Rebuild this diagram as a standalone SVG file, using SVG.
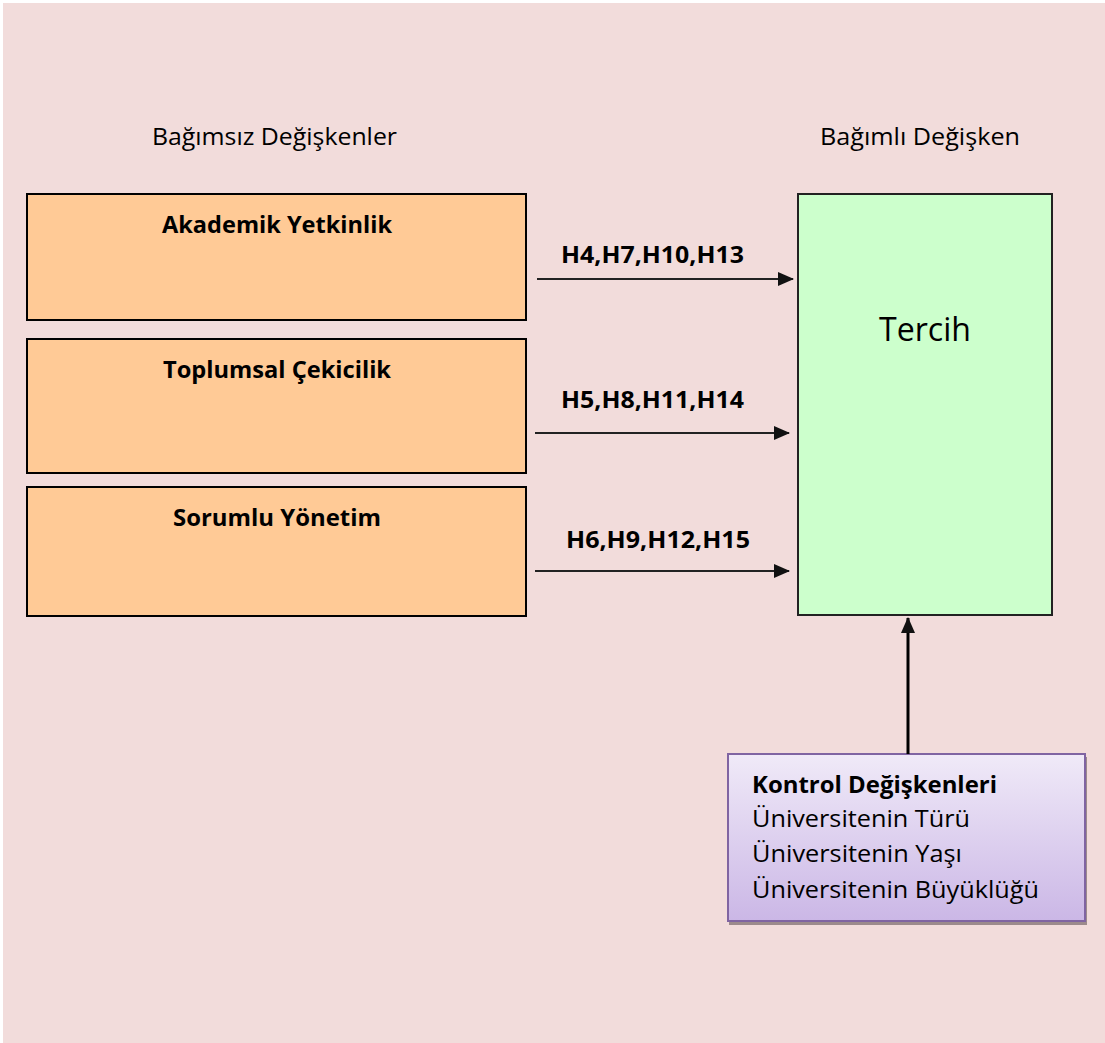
<svg xmlns="http://www.w3.org/2000/svg" width="1105" height="1043" viewBox="0 0 1105 1043">
  <style>
    .t { font-family: "Open Sans", "Noto Sans", "Liberation Sans", sans-serif; fill: #000; }
    .b { font-weight: bold; }
    .ind { fill: #FFCA96; stroke: #000; stroke-width: 2; }
    .conn { stroke: #222; stroke-width: 2.2; fill: none; }
  </style>
  <defs>
    <marker id="ah" markerWidth="16" markerHeight="14" refX="15" refY="7" orient="auto" markerUnits="userSpaceOnUse">
      <path d="M0,0 L16,7 L0,14 Z" fill="#111"/>
    </marker>
    <linearGradient id="pg" x1="0" y1="0" x2="0" y2="1">
      <stop offset="0" stop-color="#F0EAF8"/>
      <stop offset="1" stop-color="#CBB7E6"/>
    </linearGradient>
  </defs>

  <rect x="0" y="0" width="1105" height="1043" fill="#FFFFFF"/>
  <rect x="3" y="3" width="1102" height="1040" fill="#F2DCDB"/>

  <text class="t" x="152" y="145" font-size="24" textLength="245" lengthAdjust="spacingAndGlyphs">Bağımsız Değişkenler</text>
  <text class="t" x="820" y="145" font-size="24" textLength="200" lengthAdjust="spacingAndGlyphs">Bağımlı Değişken</text>

  <g id="akademik">
    <rect class="ind" x="27" y="194" width="499" height="126"/>
    <text class="t b" x="162" y="233" font-size="24" textLength="230" lengthAdjust="spacingAndGlyphs">Akademik Yetkinlik</text>
  </g>
  <g id="toplumsal">
    <rect class="ind" x="27" y="339" width="499" height="134"/>
    <text class="t b" x="163" y="378" font-size="24" textLength="228" lengthAdjust="spacingAndGlyphs">Toplumsal Çekicilik</text>
  </g>
  <g id="sorumlu">
    <rect class="ind" x="27" y="487" width="499" height="129"/>
    <text class="t b" x="173" y="526" font-size="24" textLength="208" lengthAdjust="spacingAndGlyphs">Sorumlu Yönetim</text>
  </g>

  <g id="tercih">
    <rect x="798" y="194" width="254" height="421" fill="#CCFFCC" stroke="#222" stroke-width="2"/>
    <text class="t" x="925" y="341" font-size="33" text-anchor="middle" textLength="92" lengthAdjust="spacingAndGlyphs">Tercih</text>
  </g>

  <g id="kontrol">
    <rect x="729" y="757" width="358" height="168" fill="#9C8A8C"/>
    <rect x="728" y="754" width="357" height="167" fill="url(#pg)" stroke="#8064A2" stroke-width="2"/>
    <text class="t b" x="752" y="793" font-size="23" textLength="245" lengthAdjust="spacingAndGlyphs">Kontrol Değişkenleri</text>
    <text class="t" x="752" y="827" font-size="23" textLength="218" lengthAdjust="spacingAndGlyphs">Üniversitenin Türü</text>
    <text class="t" x="752" y="862" font-size="23" textLength="210" lengthAdjust="spacingAndGlyphs">Üniversitenin Yaşı</text>
    <text class="t" x="752" y="898" font-size="23" textLength="287" lengthAdjust="spacingAndGlyphs">Üniversitenin Büyüklüğü</text>
  </g>

  <g id="connectors">
    <line class="conn" x1="537" y1="279" x2="793" y2="279" marker-end="url(#ah)"/>
    <line class="conn" x1="535" y1="433" x2="789" y2="433" marker-end="url(#ah)"/>
    <line class="conn" x1="535" y1="571" x2="789" y2="571" marker-end="url(#ah)"/>
    <line x1="908" y1="754" x2="908" y2="618" stroke="#000" stroke-width="3" marker-end="url(#ah)"/>
    <text class="t b" x="561" y="263" font-size="23" textLength="183" lengthAdjust="spacingAndGlyphs">H4,H7,H10,H13</text>
    <text class="t b" x="561" y="408" font-size="23" textLength="183" lengthAdjust="spacingAndGlyphs">H5,H8,H11,H14</text>
    <text class="t b" x="566" y="548" font-size="23" textLength="184" lengthAdjust="spacingAndGlyphs">H6,H9,H12,H15</text>
  </g>
</svg>
